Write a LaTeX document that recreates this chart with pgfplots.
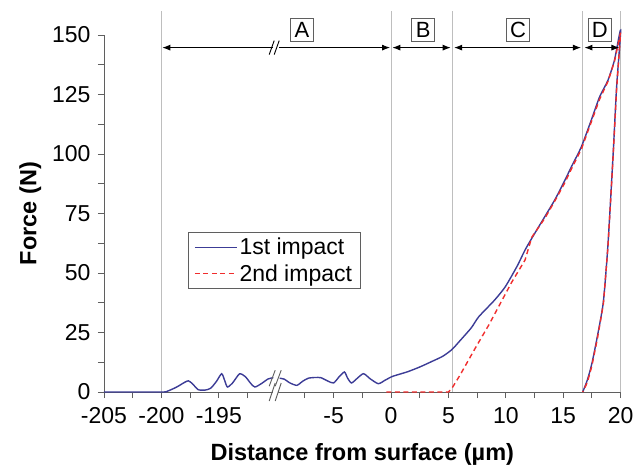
\documentclass[border=0pt]{standalone}
\usepackage{fontspec}
\setmainfont{Liberation Sans}
\usepackage{pgfplots}
\pgfplotsset{compat=1.18}
\usetikzlibrary{arrows.meta}
\definecolor{impA}{RGB}{60,60,150}
\definecolor{impB}{RGB}{240,45,45}
\definecolor{vgrid}{RGB}{190,190,190}
\definecolor{axgray}{RGB}{95,95,95}
\begin{document}
\begin{tikzpicture}
\useasboundingbox (-104pt,-77pt) rectangle (530pt,392pt);
\begin{axis}[
  scale only axis, width=516.6pt, height=357pt,
  xmin=0, xmax=45, ymin=0, ymax=150,
  axis lines*=left,
  axis line style={axgray, line width=0.9pt},
  tick style={axgray, line width=0.9pt},
  tick align=outside,
  major tick length=6pt, minor tick length=6pt,
  xtick={0,5,10,20,25,30,35,40,45},
  xticklabels={-205,-200,-195,-5,0,5,10,15,20},
  minor xtick={2.5,7.5,12.5,17.5,22.5,27.5,32.5,37.5,42.5},
  ytick={0,25,...,150},
  minor ytick={12.5,37.5,...,137.5},
  ticklabel style={font=\fontsize{23}{27}\selectfont},
  xticklabel style={yshift=-6pt},
  yticklabel style={xshift=-4pt},
  /pgf/number format/assume math mode=true,
  xlabel={Distance from surface (µm)},
  ylabel={Force (N)},
  label style={font=\fontsize{23.5}{27}\selectfont\bfseries},
  xlabel shift=13pt,
  ylabel shift=4pt,
  clip=false,
  unbounded coords=jump,
  legend style={at={(axis cs:7.3,67.2)}, anchor=north west, draw=axgray,
    font=\fontsize{23}{27}\selectfont, row sep=4pt, inner xsep=6pt, inner ysep=4pt},
  legend cell align=left,
  legend image code/.code={\draw[#1] (0pt,0pt) -- (42pt,0pt);},
  legend image post style={line width=1.5pt},
]
% vertical reference lines
\draw[vgrid, line width=0.9pt] (axis cs:5,0) -- (axis cs:5,160);
\draw[vgrid, line width=0.9pt] (axis cs:25,0) -- (axis cs:25,160);
\draw[vgrid, line width=0.9pt] (axis cs:30.35,0) -- (axis cs:30.35,160);
\draw[vgrid, line width=0.9pt] (axis cs:41.7,0) -- (axis cs:41.7,160);
\draw[vgrid, line width=0.9pt] (axis cs:45,0) -- (axis cs:45,160);

\addplot[impA, line width=1.4pt, smooth, tension=0.4] coordinates {
(0,0) (5,0) (5.5,0.3) (6.3,2) (7.0,4) (7.35,4.7) (7.7,3.5) (8.2,1) (8.8,0.8) (9.3,1.6)
(9.8,4.5) (10.25,7.7) (10.5,5) (10.75,2.1) (11.2,3.8) (11.8,7.6) (12.3,6.5) (12.8,3.5)
(13.15,2.1) (13.7,3.5) (14.3,5.5) (14.75,6)
(15,nan)
(15.3,5.8) (15.7,5.4) (16.2,3.8) (16.8,2.8) (17.3,4.5) (17.8,5.8) (18.4,6.1) (18.9,6.0)
(19.5,4.6) (20.0,3.8) (20.5,6.5) (20.95,8.4) (21.2,6) (21.55,3.8) (22.0,5.5) (22.6,7.7)
(23.2,5.5) (23.9,3.5) (24.5,5) (25.1,6.5) (25.9,7.7) (26.5,8.6) (27.5,10.5) (28.5,12.7)
(29.5,15) (30.3,17.8) (31,21.5) (32,27) (32.64,31.6) (34,38.5) (34.95,44.2) (36,53)
(36.68,59.7) (37.5,66.5) (38.4,73.7) (39.3,81) (40.15,89) (40.72,94.7) (41.58,103)
(42.45,114.3) (43.17,124) (43.9,131) (44.47,139.5) (45,152)
(44.65,128) (44.35,100) (43.9,62) (43.5,38) (43.0,24) (42.5,12) (42.1,5) (41.7,0)
};
\addlegendentry{1st impact}
\addplot[impB, line width=1.4pt, dash pattern=on 5pt off 3.5pt] coordinates {
(24.6,0) (30,0) (30.3,1.5) (31,7) (32.35,18.5) (33.5,28) (34.5,37) (35.5,46) (36.68,55.5)
(37.26,65) (38.4,73) (39.3,80.5) (40.15,88) (40.72,93.8) (41.58,102) (42.45,113.5)
(43.17,123) (43.9,130.5) (44.47,139) (45,151)
(44.65,127) (44.35,99) (43.9,61) (43.5,37) (43.0,23) (42.5,11) (42.1,4) (41.7,0)
};
\addlegendentry{2nd impact}

% axis break on x axis
\fill[white] ([xshift=-6pt,yshift=-8pt]axis cs:15,0) -- ([xshift=-1pt,yshift=-8pt]axis cs:15,0)
  -- ([xshift=5pt,yshift=8pt]axis cs:15,0) -- ([xshift=0pt,yshift=8pt]axis cs:15,0) -- cycle;
\draw[axgray, line width=0.9pt] ([xshift=-7pt,yshift=-9pt]axis cs:15,0) -- ([xshift=-1pt,yshift=9pt]axis cs:15,0);
\draw[axgray, line width=0.9pt] ([xshift=-1pt,yshift=-9pt]axis cs:15,0) -- ([xshift=5pt,yshift=9pt]axis cs:15,0);
% break on curve
\draw[axgray, line width=0.9pt] ([xshift=-7pt,yshift=-8pt]axis cs:15,5.8) -- ([xshift=-1pt,yshift=8pt]axis cs:15,5.8);
\draw[axgray, line width=0.9pt] ([xshift=-1pt,yshift=-8pt]axis cs:15,5.8) -- ([xshift=5pt,yshift=8pt]axis cs:15,5.8);

% region arrows
\draw[black, line width=0.9pt, -{Latex[length=8pt,width=6pt]}] ([xshift=-3pt]axis cs:15,144.7) -- (axis cs:5.08,144.7);
\draw[black, line width=0.9pt, -{Latex[length=8pt,width=6pt]}] ([xshift=3pt]axis cs:15,144.7) -- (axis cs:24.92,144.7);
\draw[black, line width=0.9pt] ([xshift=-7pt,yshift=-7pt]axis cs:15,144.7) -- ([xshift=-2pt,yshift=7pt]axis cs:15,144.7);
\draw[black, line width=0.9pt] ([xshift=-2pt,yshift=-7pt]axis cs:15,144.7) -- ([xshift=3pt,yshift=7pt]axis cs:15,144.7);
\draw[black, line width=0.9pt, {Latex[length=8pt,width=6pt]}-{Latex[length=8pt,width=6pt]}] (axis cs:25.12,144.7) -- (axis cs:30.2,144.7);
\draw[black, line width=0.9pt, {Latex[length=8pt,width=6pt]}-{Latex[length=8pt,width=6pt]}] (axis cs:30.5,144.7) -- (axis cs:41.55,144.7);
\draw[black, line width=0.9pt, {Latex[length=8pt,width=6pt]}-{Latex[length=8pt,width=6pt]}] (axis cs:41.85,144.7) -- (axis cs:44.9,144.7);

\tikzset{reg/.style={draw=axgray, fill=white, line width=0.9pt, inner sep=0pt, minimum width=23pt, minimum height=23pt, font=\fontsize{22}{25}\selectfont}}
\node[reg] at (axis cs:17.25,152.1) {A};
\node[reg] at (axis cs:27.8,152.1) {B};
\node[reg] at (axis cs:36.06,152.1) {C};
\node[reg] at (axis cs:43.2,152.1) {D};
\end{axis}
\end{tikzpicture}
\end{document}
